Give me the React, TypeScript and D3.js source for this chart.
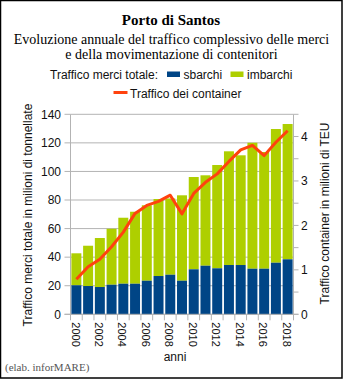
import React from "react";
import * as d3 from "d3";

const years = ["2000","2001","2002","2003","2004","2005","2006","2007","2008","2009","2010","2011","2012","2013","2014","2015","2016","2017","2018"];
const totale = [42.7, 48.0, 53.4, 59.9, 67.6, 71.8, 76.3, 80.7, 81.1, 83.3, 96.1, 97.3, 104.5, 114.1, 111.3, 120.1, 113.6, 129.7, 133.2];
const sbarchi = [20.3, 19.8, 19.1, 20.7, 21.4, 21.4, 23.5, 26.8, 27.7, 23.5, 31.5, 34.0, 32.2, 34.5, 34.5, 31.9, 31.9, 36.1, 38.5];
const container = [0.79, 1.07, 1.24, 1.52, 1.85, 2.27, 2.45, 2.54, 2.68, 2.26, 2.72, 2.97, 3.16, 3.44, 3.70, 3.80, 3.57, 3.87, 4.13];
const leftTicks = [0, 20, 40, 60, 80, 100, 120, 140];
const rightTicks = [0, 1, 2, 3, 4];
const rightMinor = [0, 0.5, 1, 1.5, 2, 2.5, 3, 3.5, 4, 4.5];
const labelYears = ["2000","2002","2004","2006","2008","2010","2012","2014","2016","2018"];

const BLUE = "#004586";
const GREEN = "#aecf00";
const RED = "#ff420e";
const GRID = "#b3b3b3";
const SANS = "'Liberation Sans', Arial, sans-serif";
const SERIF = "'Liberation Serif', 'Times New Roman', serif";

export default function App() {
  const W = 343, H = 379;
  const x0 = 70.5, x1 = 293.5, yTop = 114.3, yBot = 314.3;
  const x = d3.scaleBand<string>().domain(years).range([x0, x1]).paddingInner(0.15).paddingOuter(0.075);
  const yL = d3.scaleLinear().domain([0, 140]).range([yBot, yTop]);
  const yR = d3.scaleLinear().domain([0, 4.5]).range([yBot, yTop]);
  const step = x.step();
  const line = d3.line<number>().x((_, i) => (x(years[i]) as number) + x.bandwidth() / 2).y((d) => yR(d));
  const boundaries = d3.range(years.length + 1).map((i) => x0 + i * step);

  return (
    <svg width={W} height={H} style={{ position: "absolute", left: 0, top: 0, background: "#fff" }}>
      <rect x={0} y={0} width={W} height={H} fill="#fff" />
      {/* gridlines */}
      {leftTicks.map((t) => (
        <line key={"g" + t} x1={x0} x2={x1} y1={yL(t)} y2={yL(t)} stroke={GRID} strokeWidth={1} />
      ))}
      {/* bars */}
      {years.map((yr, i) => (
        <g key={yr}>
          <rect x={x(yr)} width={x.bandwidth()} y={yL(totale[i])} height={yL(sbarchi[i]) - yL(totale[i])} fill={GREEN} />
          <rect x={x(yr)} width={x.bandwidth()} y={yL(sbarchi[i])} height={yBot - yL(sbarchi[i])} fill={BLUE} />
        </g>
      ))}
      {/* axes */}
      <line x1={x0} x2={x0} y1={yTop} y2={yBot} stroke={GRID} />
      <line x1={x1} x2={x1} y1={yTop} y2={yBot} stroke={GRID} />
      <line x1={x0 - 6} x2={x1 + 5} y1={yBot} y2={yBot} stroke={GRID} />
      {leftTicks.map((t) => (
        <g key={"l" + t}>
          <line x1={x0 - 6} x2={x0} y1={yL(t)} y2={yL(t)} stroke={GRID} />
          <text x={61} y={yL(t)} dy="0.35em" textAnchor="end" fontFamily={SANS} fontSize={12} fill="#111">{t}</text>
        </g>
      ))}
      {rightMinor.map((t) => (
        <line key={"rm" + t} x1={x1} x2={x1 + 5} y1={yR(t)} y2={yR(t)} stroke={GRID} />
      ))}
      {rightTicks.map((t) => (
        <text key={"r" + t} x={301} y={yR(t)} dy="0.35em" textAnchor="start" fontFamily={SANS} fontSize={12} fill="#111">{t}</text>
      ))}
      {boundaries.map((bx, i) => (
        <line key={"b" + i} x1={bx} x2={bx} y1={yBot} y2={yBot + 6} stroke={GRID} />
      ))}
      {labelYears.map((yr) => {
        const cx = (x(yr) as number) + x.bandwidth() / 2 - 1;
        return (
          <text key={"x" + yr} transform={`translate(${cx},${yBot + 8}) rotate(90)`} dy="0.35em" textAnchor="start" fontFamily={SANS} fontSize={11} fill="#111">{yr}</text>
        );
      })}
      {/* container line */}
      <path d={line(container) as string} fill="none" stroke={RED} strokeWidth={3} strokeLinejoin="round" />
      {/* axis titles */}
      <text transform={`translate(32,215) rotate(-90)`} textAnchor="middle" fontFamily={SANS} fontSize={12} fill="#111">Traffico merci totale in milioni di tonnellate</text>
      <text transform={`translate(329,213.5) rotate(-90)`} textAnchor="middle" fontFamily={SANS} fontSize={12} fill="#111">Traffico container in milioni di TEU</text>
      <text x={175} y={361} textAnchor="middle" fontFamily={SANS} fontSize={12} fill="#111">anni</text>
      {/* titles */}
      <text x={171} y={25} textAnchor="middle" fontFamily={SERIF} fontWeight="bold" fontSize={15} fill="#000">Porto di Santos</text>
      <text x={171.5} y={44} textAnchor="middle" fontFamily={SERIF} fontSize={14} fill="#000">Evoluzione annuale del traffico complessivo delle merci</text>
      <text x={171.5} y={59} textAnchor="middle" fontFamily={SERIF} fontSize={14} fill="#000">e della movimentazione di contenitori</text>
      {/* legend */}
      <text x={50} y={79} fontFamily={SANS} fontSize={12} fill="#111">Traffico merci totale:</text>
      <rect x={167} y={71.5} width={13} height={5.5} fill={BLUE} />
      <text x={183.5} y={79} fontFamily={SANS} fontSize={12} fill="#111">sbarchi</text>
      <rect x={230.5} y={71.5} width={13} height={5.5} fill={GREEN} />
      <text x={247} y={79} fontFamily={SANS} fontSize={12} fill="#111">imbarchi</text>
      <line x1={113.5} x2={127.5} y1={92.5} y2={92.5} stroke={RED} strokeWidth={3} />
      <text x={130} y={98} fontFamily={SANS} fontSize={12} fill="#111">Traffico dei container</text>
      {/* source */}
      <text x={5} y={371} fontFamily={SERIF} fontSize={11} fill="#555">(elab. inforMARE)</text>
      {/* border */}
      <rect x={0.5} y={0.5} width={W - 1.5} height={H - 1.5} fill="none" stroke="#000" strokeWidth={1.5} />
    </svg>
  );
}
